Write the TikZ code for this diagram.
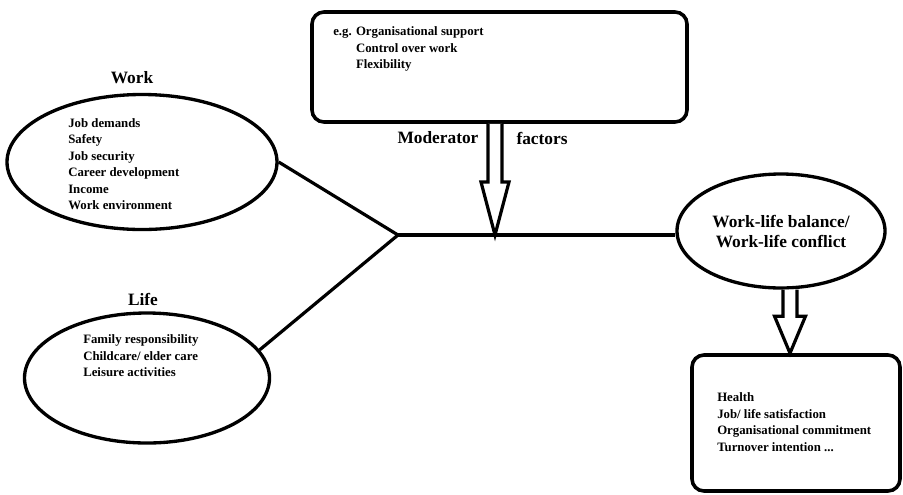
\documentclass[tikz,border=0pt]{standalone}
\usepackage{fontspec}
\setmainfont{Liberation Serif}
\usetikzlibrary{calc,shapes}
\usetikzlibrary{positioning}

\tikzset{
  oval/.style={draw, ellipse, line width=2.5pt, inner sep=0pt},
  rbox/.style={draw, rectangle, rounded corners=9pt, line width=2.7pt, inner sep=0pt},
  items/.style={font=\fontsize{9.6}{12.4}\selectfont\bfseries, align=left, inner sep=0pt, anchor=west},
  heading/.style={font=\fontsize{13}{15}\selectfont\bfseries, inner sep=0pt},
  link/.style={line width=2.4pt},
  hollow/.style={draw, line width=2.4pt, fill=white, line join=miter}
}

\begin{document}
\begin{tikzpicture}[x=0.75pt,y=0.75pt,yscale=-1,xscale=1]
\useasboundingbox (0,0) rectangle (903,494);

%Shape: Rounded Rect [id:mod] 
\node[rbox, minimum width=281.25pt, minimum height=82.5pt] (mod) at (499.5,67) {};
\node[items] (modtext) at (333,49) {\begin{tabular}{@{}l@{ }l@{}}e.g. & Organisational support\\ & Control over work\\ & Flexibility\end{tabular}};
\node[heading] (modlabel) at (438,138) {Moderator};
\node[heading] (faclabel) at (542,138) {factors};

%Shape: Ellipse [id:work] 
\node[oval, minimum width=202.5pt, minimum height=101.25pt] (work) at (142,162) {};
\node[heading] (worktitle) at (132,78) {Work};
\node[items] (worktext) at (68,164) {Job demands\\Safety\\Job security\\Career development\\Income\\Work environment};

%Shape: Ellipse [id:life] 
\node[oval, minimum width=183.75pt, minimum height=97.5pt] (life) at (147,378) {};
\node[heading] (lifetitle) at (143,299) {Life};
\node[items] (lifetext) at (83,356) {Family responsibility\\Childcare/ elder care\\Leisure activities};

%Shape: Ellipse [id:wlb] 
\node[oval, heading, align=center, minimum width=156pt, minimum height=85.5pt, text depth=0pt] (wlb) at (781,231) {Work-life balance/\\Work-life conflict};

%Shape: Rounded Rect [id:out] 
\node[rbox, minimum width=156pt, minimum height=102pt] (out) at (796,423) {};
\node[items] (outtext) at (717,422) {Health\\Job/ life satisfaction\\Organisational commitment\\Turnover intention ...};

%Straight Lines 
\coordinate (junc) at (398,235);
\coordinate (tip1) at (495,235);
\draw[link] (work.east) -- (junc);
\draw[link] (life.14) -- (junc);
\draw[link] (junc) -- (junc -| wlb.west);

%Block Arrow [id:moderator] 
\draw[hollow] ($(tip1 |- mod.south)+(-7,0)$) -- ($(tip1)+(-7,-53)$) -- ($(tip1)+(-14,-53)$) -- (tip1) -- ($(tip1)+(14,-53)$) -- ($(tip1)+(7,-53)$) -- ($(tip1 |- mod.south)+(7,0)$);

%Block Arrow [id:outcome] 
\coordinate (tip2) at ($(out.north)+(-6,0)$);
\draw[hollow] ($(tip2 |- wlb.south)+(-7,0)$) -- ($(tip2)+(-7,-37)$) -- ($(tip2)+(-15.5,-37)$) -- (tip2) -- ($(tip2)+(15.5,-37)$) -- ($(tip2)+(7,-37)$) -- ($(tip2 |- wlb.south)+(7,0)$);

\end{tikzpicture}
\end{document}
